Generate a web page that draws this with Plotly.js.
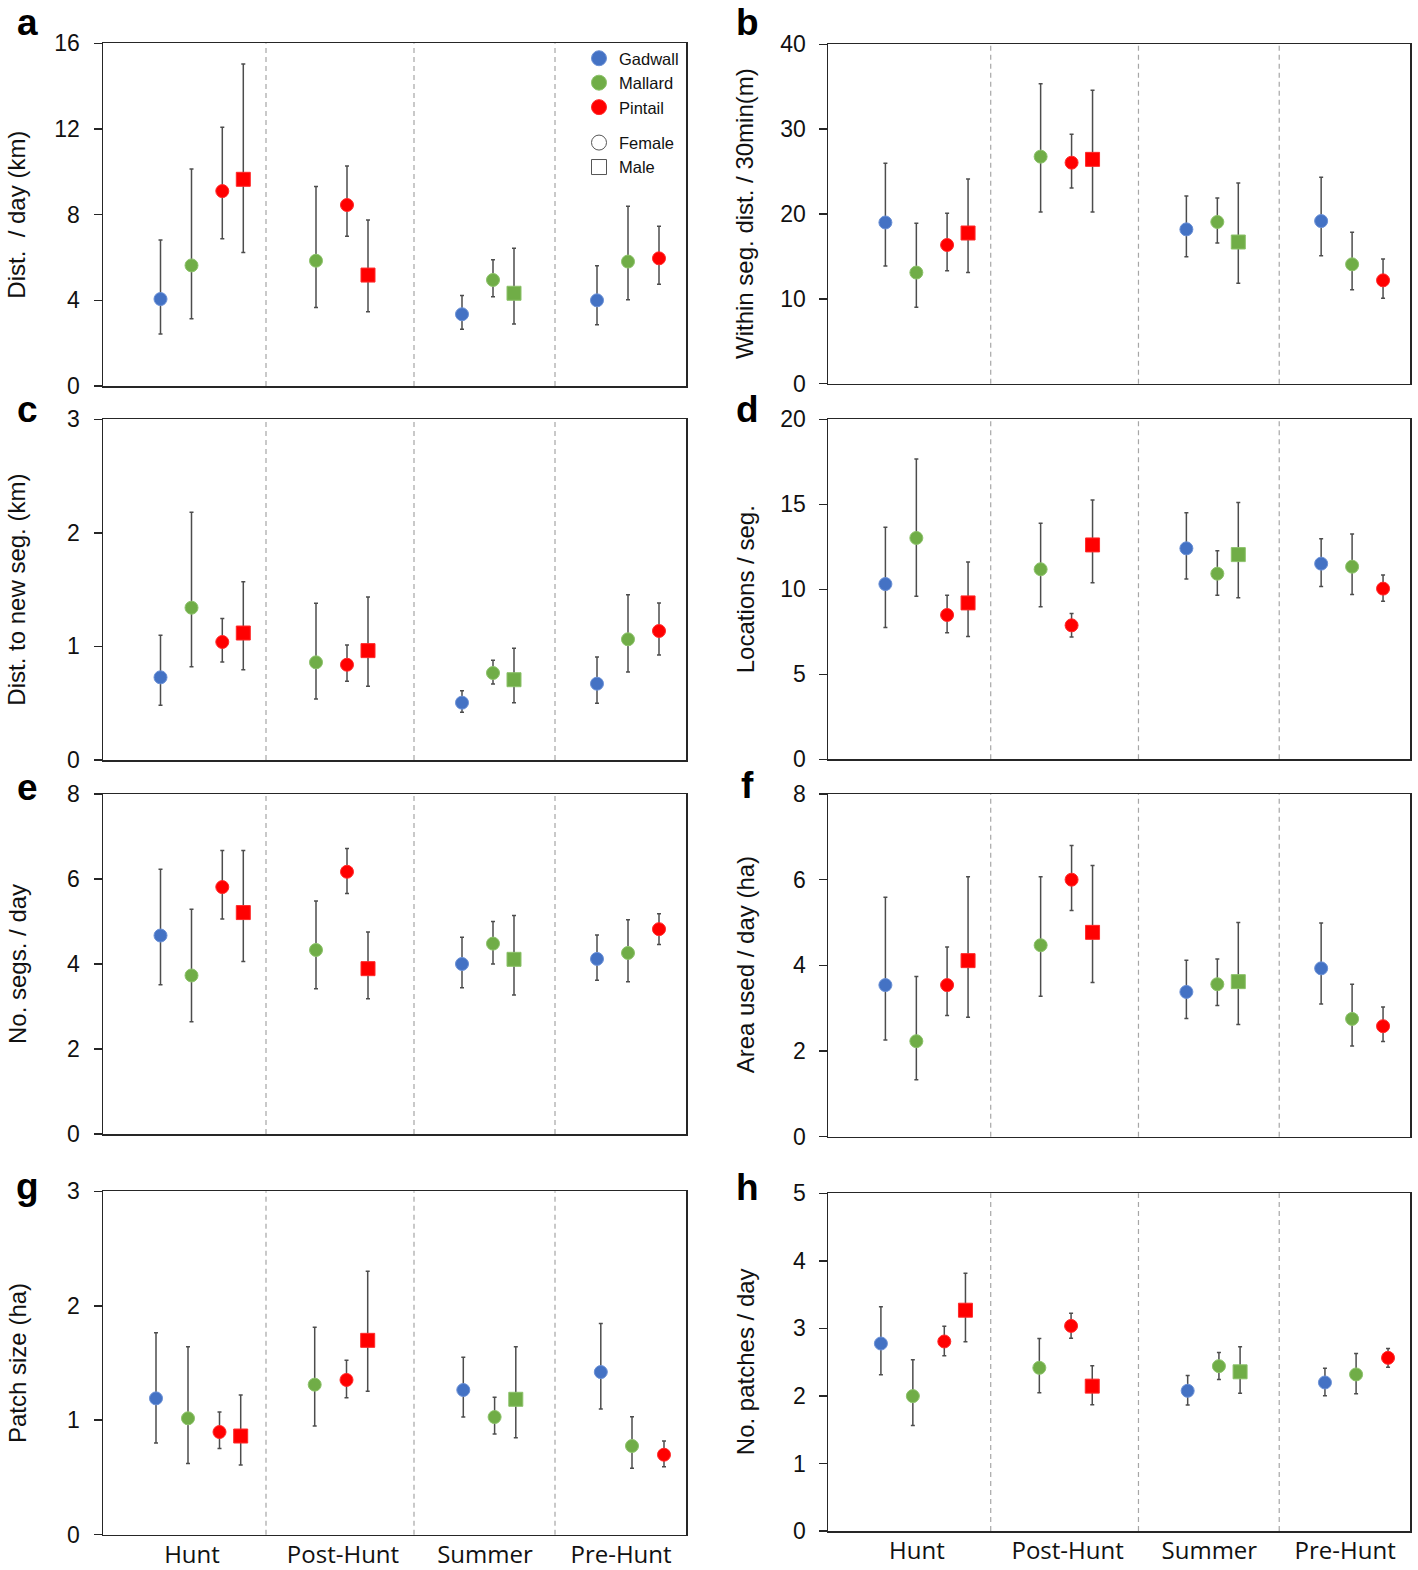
<!DOCTYPE html>
<html>
<head>
<meta charset="utf-8">
<script src="https://cdn.plot.ly/plotly-3.0.1.min.js"></script>
<style>html,body{margin:0;padding:0;background:#fff;}#chart{width:1418px;height:1570px;}</style>
</head>
<body>
<div id="chart"></div>
<script>
// ---- categories ----
const seasons = ['Hunt', 'Post-Hunt', 'Summer', 'Pre-Hunt'];
const slotSpecies = ['Gadwall','Mallard','Pintail','Pintail','Mallard','Pintail','Pintail','Gadwall','Mallard','Mallard','Gadwall','Mallard','Pintail'];
const slotSex     = ['Female','Female','Female','Male','Female','Female','Male','Female','Female','Male','Female','Female','Female'];

// ---- values (mean, lower, upper) ----
const aMean = [4.06, 5.63, 9.10, 9.65, 5.85, 8.45, 5.18, 3.35, 4.95, 4.33, 4.00, 5.81, 5.96];
const aLow  = [2.43, 3.14, 6.88, 6.23, 3.67, 6.99, 3.47, 2.65, 4.17, 2.90, 2.86, 4.03, 4.75];
const aHigh = [6.82, 10.13, 12.08, 15.03, 9.31, 10.27, 7.75, 4.23, 5.90, 6.43, 5.62, 8.39, 7.46];

const bMean = [19.0, 13.1, 16.35, 17.76, 26.76, 26.05, 26.44, 18.19, 19.06, 16.7, 19.17, 14.07, 12.18];
const bLow  = [13.87, 9.0, 13.32, 13.12, 20.24, 23.06, 20.24, 14.97, 16.58, 11.83, 15.09, 11.08, 10.06];
const bHigh = [25.97, 18.9, 20.08, 24.13, 35.36, 29.39, 34.58, 22.12, 21.89, 23.65, 24.32, 17.84, 14.7];

const cMean = [0.728, 1.341, 1.039, 1.118, 0.86, 0.839, 0.963, 0.505, 0.766, 0.707, 0.672, 1.063, 1.136];
const cLow  = [0.481, 0.822, 0.863, 0.795, 0.537, 0.693, 0.649, 0.42, 0.669, 0.505, 0.499, 0.775, 0.925];
const cHigh = [1.098, 2.181, 1.247, 1.570, 1.38, 1.013, 1.435, 0.61, 0.878, 0.983, 0.907, 1.456, 1.382];

const dMean = [10.31, 13.02, 8.49, 9.2, 11.18, 7.88, 12.61, 12.41, 10.92, 12.04, 11.51, 11.33, 10.04];
const dLow  = [7.76, 9.59, 7.45, 7.22, 8.98, 7.2, 10.39, 10.61, 9.65, 9.51, 10.16, 9.69, 9.29];
const dHigh = [13.65, 17.67, 9.65, 11.61, 13.88, 8.57, 15.25, 14.51, 12.27, 15.1, 12.98, 13.25, 10.84];

const eMean = [4.67, 3.73, 5.81, 5.21, 4.33, 6.17, 3.89, 4.0, 4.48, 4.11, 4.12, 4.26, 4.82];
const eLow  = [3.51, 2.64, 5.06, 4.06, 3.42, 5.66, 3.18, 3.44, 4.0, 3.27, 3.62, 3.58, 4.46];
const eHigh = [6.23, 5.29, 6.67, 6.67, 5.48, 6.72, 4.75, 4.63, 5.0, 5.14, 4.68, 5.04, 5.18];

const fMean = [3.54, 2.23, 3.54, 4.11, 4.47, 6.0, 4.77, 3.38, 3.56, 3.62, 3.93, 2.75, 2.58];
const fLow  = [2.26, 1.33, 2.83, 2.79, 3.28, 5.28, 3.6, 2.76, 3.06, 2.62, 3.1, 2.12, 2.22];
const fHigh = [5.59, 3.74, 4.43, 6.07, 6.07, 6.8, 6.33, 4.12, 4.15, 5.0, 4.99, 3.56, 3.03];

const gMean = [1.191, 1.017, 0.897, 0.862, 1.311, 1.352, 1.698, 1.264, 1.028, 1.183, 1.421, 0.775, 0.699];
const gLow  = [0.801, 0.623, 0.752, 0.609, 0.95, 1.197, 1.253, 1.028, 0.88, 0.848, 1.098, 0.58, 0.594];
const gHigh = [1.765, 1.643, 1.072, 1.22, 1.812, 1.523, 2.301, 1.55, 1.2, 1.643, 1.844, 1.031, 0.819];

const hMean = [2.776, 1.997, 2.806, 3.269, 2.416, 3.037, 2.145, 2.076, 2.441, 2.357, 2.199, 2.318, 2.564];
const hLow  = [2.313, 1.563, 2.594, 2.801, 2.046, 2.855, 1.869, 1.864, 2.244, 2.041, 2.002, 2.032, 2.426];
const hHigh = [3.319, 2.534, 3.033, 3.817, 2.85, 3.225, 2.446, 2.303, 2.643, 2.727, 2.411, 2.628, 2.702];

const yTitles = ['Dist.  / day (km)', 'Within seg. dist. / 30min(m)', 'Dist. to new seg. (km)', 'Locations / seg.',
                 'No. segs. / day', 'Area used / day (ha)', 'Patch size (ha)', 'No. patches / day'];
const panelLetters = ['a','b','c','d','e','f','g','h'];

// ---- layout (positions, styles) ----
const W = 1418, H = 1570;
const xPosTop    = [57.5, 88.5, 119.3, 140.3, 213, 244, 265, 359, 390, 411, 494, 525, 556];
const xPosBottom = [53, 85, 116.5, 137.7, 211.7, 243.5, 264.7, 360.3, 391.6, 412.8, 497.8, 529, 561];
const separators = [163, 311, 452];
const seasonTickPos = [89, 240, 382, 518];

const colors = {Gadwall: '#4472C4', Mallard: '#70AD47', Pintail: '#FF0000'};
const rims   = {Gadwall: '#6A90D6', Mallard: '#8CC26A', Pintail: '#FF2A2A'};
const symbols = {Female: 'circle', Male: 'square'};

const panels = [
  {mean:aMean, lo:aLow, hi:aHigh, range:[0,16], dtick:4, top:43.3, bottom:386,  col:0, xpos:xPosTop},
  {mean:bMean, lo:bLow, hi:bHigh, range:[0,40], dtick:10, top:44.3, bottom:383.7, col:1, xpos:xPosTop},
  {mean:cMean, lo:cLow, hi:cHigh, range:[0,3], dtick:1, top:419.3, bottom:760, col:0, xpos:xPosTop},
  {mean:dMean, lo:dLow, hi:dHigh, range:[0,20], dtick:5, top:419.3, bottom:759.3, col:1, xpos:xPosTop},
  {mean:eMean, lo:eLow, hi:eHigh, range:[0,8], dtick:2, top:794, bottom:1134, col:0, xpos:xPosTop},
  {mean:fMean, lo:fLow, hi:fHigh, range:[0,8], dtick:2, top:794, bottom:1136.7, col:1, xpos:xPosTop},
  {mean:gMean, lo:gLow, hi:gHigh, range:[0,3], dtick:1, top:1191.3, bottom:1534.7, col:0, xpos:xPosBottom},
  {mean:hMean, lo:hLow, hi:hHigh, range:[0,5], dtick:1, top:1193.3, bottom:1531, col:1, xpos:xPosBottom}
];
const colX = [[103, 686], [828, 1410]];
const titleX = [17, 745];
const letterX = [27, 748];
const letterY = [23, 23, 409, 409, 787, 785, 1186, 1187];
const tickStandoff = [9, 8];

const tickFont = {family: '"Liberation Sans", Arial, sans-serif', size: 23, color: '#111'};
const frameColor = '#262626';

const traces = [];
const layout = {
  width: W, height: H,
  margin: {l: 0, r: 0, t: 0, b: 0},
  paper_bgcolor: '#fff', plot_bgcolor: '#fff',
  showlegend: true,
  legend: {
    x: 579 / W, y: 1 - 41 / H, xanchor: 'left', yanchor: 'top',
    bgcolor: 'rgba(0,0,0,0)', traceorder: 'grouped', tracegroupgap: 11,
    itemsizing: 'trace',
    font: {family: '"Liberation Sans", Arial, sans-serif', size: 16.5, color: '#111'}
  },
  shapes: [], annotations: []
};

const combos = [['Gadwall','Female'], ['Mallard','Female'], ['Mallard','Male'], ['Pintail','Female'], ['Pintail','Male']];

panels.forEach((p, i) => {
  const n = i === 0 ? '' : String(i + 1);
  const xr = 'x' + n, yr = 'y' + n;
  const cx = colX[p.col];
  const isBottom = i >= 6;

  combos.forEach(([sp, sx]) => {
    const idx = [];
    slotSpecies.forEach((s, k) => { if (s === sp && slotSex[k] === sx) idx.push(k); });
    if (!idx.length) return;
    traces.push({
      type: 'scatter', mode: 'markers', xaxis: xr, yaxis: yr, showlegend: false,
      x: idx.map(k => p.xpos[k]),
      y: idx.map(k => p.mean[k]),
      error_y: {type: 'data', symmetric: false,
        array: idx.map(k => p.hi[k] - p.mean[k]),
        arrayminus: idx.map(k => p.mean[k] - p.lo[k]),
        color: '#4d4d4d', thickness: 1.5, width: 2},
      marker: {symbol: symbols[sx], size: sx === 'Male' ? 14 : 13, color: colors[sp],
               line: {color: rims[sp], width: 1}},
      hoverinfo: 'skip'
    });
  });

  layout['xaxis' + n] = {
    domain: [cx[0] / W, cx[1] / W], anchor: yr, range: [0, 583],
    showline: true, mirror: true, linecolor: frameColor, linewidth: 1.5,
    showgrid: false, zeroline: false, ticks: '',
    showticklabels: isBottom,
    tickmode: 'array', tickvals: seasonTickPos, ticktext: seasons,
    ticklabelstandoff: -2,
    tickfont: {family: '"Open Sans", "Noto Sans", sans-serif', size: 24, color: '#111'},
    fixedrange: true
  };
  layout['yaxis' + n] = {
    domain: [1 - p.bottom / H, 1 - p.top / H], anchor: xr, range: p.range,
    tickmode: 'linear', tick0: 0, dtick: p.dtick,
    showline: true, mirror: true, linecolor: frameColor, linewidth: 1.5,
    showgrid: false, zeroline: false,
    ticks: 'outside', ticklen: 8, tickwidth: 1.5, tickcolor: frameColor,
    ticklabelstandoff: tickStandoff[p.col],
    tickfont: tickFont, fixedrange: true
  };

  separators.forEach(s => layout.shapes.push({
    type: 'line', xref: xr, yref: yr + ' domain', x0: s, x1: s, y0: 0, y1: 1,
    line: {color: '#a6a6a6', width: 1.2, dash: '5px,4px'}, layer: 'below'
  }));

  layout.annotations.push({
    xref: 'paper', yref: 'paper', x: titleX[p.col] / W, y: 1 - ((p.top + p.bottom) / 2) / H,
    text: yTitles[i], textangle: -90, showarrow: false, xanchor: 'center', yanchor: 'middle',
    font: {family: '"Liberation Sans", Arial, sans-serif', size: 24, color: '#111'}
  });
  layout.annotations.push({
    xref: 'paper', yref: 'paper', x: letterX[p.col] / W, y: 1 - letterY[i] / H,
    text: '<b>' + panelLetters[i] + '</b>', showarrow: false, xanchor: 'center', yanchor: 'middle',
    font: {family: '"Liberation Sans", Arial, sans-serif', size: 37, color: '#000'}
  });
});

// legend entries
['Gadwall', 'Mallard', 'Pintail'].forEach(sp => traces.push({
  type: 'scatter', mode: 'markers', x: [null], y: [null], xaxis: 'x', yaxis: 'y',
  name: sp, legendgroup: 'species',
  marker: {symbol: 'circle', size: 15, color: colors[sp], line: {color: rims[sp], width: 1}}
}));
['Female', 'Male'].forEach(sx => traces.push({
  type: 'scatter', mode: 'markers', x: [null], y: [null], xaxis: 'x', yaxis: 'y',
  name: sx, legendgroup: 'sex',
  marker: {symbol: symbols[sx] + '-open', size: 15, color: '#555', line: {color: '#555', width: 1}}
}));

Plotly.newPlot('chart', traces, layout, {displayModeBar: false, staticPlot: true});
</script>
</body>
</html>
